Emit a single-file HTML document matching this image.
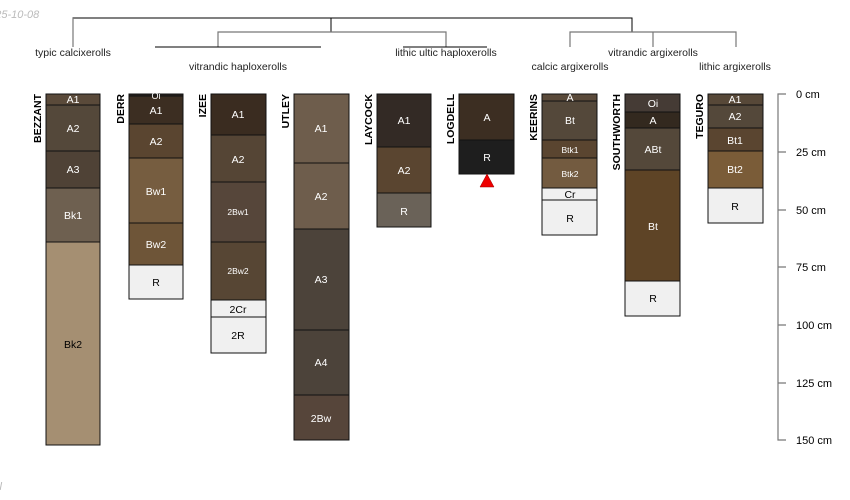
<!DOCTYPE html>
<html><head><meta charset="utf-8"><style>
html,body{margin:0;padding:0;background:#fff;width:850px;height:500px;overflow:hidden}
svg{display:block;font-family:"Liberation Sans",sans-serif}
</style></head><body>
<svg width="850" height="500" viewBox="0 0 850 500">
<text x="-17" y="18" font-size="11" fill="#bbb" font-style="italic">2025-10-08</text>
<text x="-3" y="490" font-size="11" fill="#bbb" font-style="italic">ll</text>
<!-- dendrogram -->
<g stroke="#000" stroke-width="1" fill="none">
<path d="M73 47V18H632V32M331 18V32"/>
</g>
<g stroke="#777" stroke-width="1.2" fill="none">
<path d="M73 18V47M218 47V32H446V47M570 47V32H736V47M653 32V47"/>
</g>
<g stroke="#000" stroke-width="1" fill="none">
<path d="M155 47H321M403 47H487"/>
</g>
<g font-size="10.5" fill="#222" text-anchor="middle">
<text x="73" y="56">typic calcixerolls</text>
<text x="238" y="70">vitrandic haploxerolls</text>
<text x="446" y="56">lithic ultic haploxerolls</text>
<text x="570" y="70">calcic argixerolls</text>
<text x="653" y="56">vitrandic argixerolls</text>
<text x="735" y="70">lithic argixerolls</text>
</g>
<!-- names -->
<g font-size="10.5" font-weight="bold" fill="#000" text-anchor="end">
<text transform="translate(41,94) rotate(-90)">BEZZANT</text>
<text transform="translate(124,94) rotate(-90)">DERR</text>
<text transform="translate(206,94) rotate(-90)">IZEE</text>
<text transform="translate(289,94) rotate(-90)">UTLEY</text>
<text transform="translate(372,94) rotate(-90)">LAYCOCK</text>
<text transform="translate(454,94) rotate(-90)">LOGDELL</text>
<text transform="translate(537,94) rotate(-90)">KEERINS</text>
<text transform="translate(620,94) rotate(-90)">SOUTHWORTH</text>
<text transform="translate(703,94) rotate(-90)">TEGURO</text>
</g>
<g stroke="#111" stroke-width="1" font-size="10.5" text-anchor="middle">
<rect x="46" y="94" width="54" height="11" fill="#5a4a3a"/>
<rect x="46" y="105" width="54" height="46" fill="#54483a"/>
<rect x="46" y="151" width="54" height="37" fill="#4f4236"/>
<rect x="46" y="188" width="54" height="54" fill="#6e6050"/>
<rect x="46" y="242" width="54" height="203" fill="#a58f72"/>
<rect x="129" y="94" width="54" height="2" fill="#2a2420"/>
<rect x="129" y="96" width="54" height="28" fill="#3c2e22"/>
<rect x="129" y="124" width="54" height="34" fill="#5a4530"/>
<rect x="129" y="158" width="54" height="65" fill="#765d40"/>
<rect x="129" y="223" width="54" height="42" fill="#6e5538"/>
<rect x="129" y="265" width="54" height="34" fill="#f0f0f0"/>
<rect x="211" y="94" width="55" height="41" fill="#3a2c20"/>
<rect x="211" y="135" width="55" height="47" fill="#554535"/>
<rect x="211" y="182" width="55" height="60" fill="#56463a"/>
<rect x="211" y="242" width="55" height="58" fill="#574634"/>
<rect x="211" y="300" width="55" height="17" fill="#f0f0f0"/>
<rect x="211" y="317" width="55" height="36" fill="#f0f0f0"/>
<rect x="294" y="94" width="55" height="69" fill="#6e5d4c"/>
<rect x="294" y="163" width="55" height="66" fill="#6e5d4c"/>
<rect x="294" y="229" width="55" height="101" fill="#4c433a"/>
<rect x="294" y="330" width="55" height="65" fill="#4c433a"/>
<rect x="294" y="395" width="55" height="45" fill="#56453a"/>
<rect x="377" y="94" width="54" height="53" fill="#332a25"/>
<rect x="377" y="147" width="54" height="46" fill="#5a4530"/>
<rect x="377" y="193" width="54" height="34" fill="#6a6258"/>
<rect x="459" y="94" width="55" height="46" fill="#3c2e22"/>
<rect x="459" y="140" width="55" height="34" fill="#1e1e1e"/>
<rect x="542" y="94" width="55" height="7" fill="#5a4a3a"/>
<rect x="542" y="101" width="55" height="39" fill="#54483a"/>
<rect x="542" y="140" width="55" height="18" fill="#5a4530"/>
<rect x="542" y="158" width="55" height="30" fill="#735b40"/>
<rect x="542" y="188" width="55" height="12" fill="#f0f0f0"/>
<rect x="542" y="200" width="55" height="35" fill="#f0f0f0"/>
<rect x="625" y="94" width="55" height="18" fill="#453b35"/>
<rect x="625" y="112" width="55" height="16" fill="#33291f"/>
<rect x="625" y="128" width="55" height="42" fill="#54483a"/>
<rect x="625" y="170" width="55" height="111" fill="#5e4426"/>
<rect x="625" y="281" width="55" height="35" fill="#f0f0f0"/>
<rect x="708" y="94" width="55" height="11" fill="#574838"/>
<rect x="708" y="105" width="55" height="23" fill="#54483a"/>
<rect x="708" y="128" width="55" height="23" fill="#5a4530"/>
<rect x="708" y="151" width="55" height="37" fill="#7a5c38"/>
<rect x="708" y="188" width="55" height="35" fill="#f0f0f0"/>
</g>
<polygon points="487,174 480,187 494,187" fill="#e00" stroke="#900" stroke-width="0.5"/>
<g font-size="10.5" text-anchor="middle" fill="#fff">
<text x="73" y="103">A1</text><text x="73" y="132">A2</text><text x="73" y="173">A3</text><text x="73" y="219">Bk1</text><text x="73" y="348" fill="#000">Bk2</text>
<text x="156" y="99" font-size="9">Oi</text><text x="156" y="114">A1</text><text x="156" y="145">A2</text><text x="156" y="195">Bw1</text><text x="156" y="248">Bw2</text><text x="156" y="286" fill="#000">R</text>
<text x="238" y="118">A1</text><text x="238" y="163">A2</text><text x="238" y="215" font-size="8.5">2Bw1</text><text x="238" y="274" font-size="8.5">2Bw2</text><text x="238" y="313" fill="#000">2Cr</text><text x="238" y="339" fill="#000">2R</text>
<text x="321" y="132">A1</text><text x="321" y="200">A2</text><text x="321" y="283">A3</text><text x="321" y="366">A4</text><text x="321" y="422">2Bw</text>
<text x="404" y="124">A1</text><text x="404" y="174">A2</text><text x="404" y="215">R</text>
<text x="487" y="121">A</text><text x="487" y="161">R</text>
<text x="570" y="101">A</text><text x="570" y="124">Bt</text><text x="570" y="153" font-size="8.5">Btk1</text><text x="570" y="177" font-size="8.5">Btk2</text><text x="570" y="198" fill="#000">Cr</text><text x="570" y="222" fill="#000">R</text>
<text x="653" y="107">Oi</text><text x="653" y="124">A</text><text x="653" y="153">ABt</text><text x="653" y="230">Bt</text><text x="653" y="302" fill="#000">R</text>
<text x="735" y="103">A1</text><text x="735" y="120">A2</text><text x="735" y="144">Bt1</text><text x="735" y="173">Bt2</text><text x="735" y="210" fill="#000">R</text>
</g>
<g stroke="#777" stroke-width="1.2" fill="none">
<path d="M786 94H778V440H786M778 152H786M778 210H786M778 267H786M778 325H786M778 383H786"/>
</g>
<g font-size="11" fill="#000">
<text x="796" y="98">0 cm</text><text x="796" y="156">25 cm</text><text x="796" y="214">50 cm</text><text x="796" y="271">75 cm</text><text x="796" y="329">100 cm</text><text x="796" y="387">125 cm</text><text x="796" y="444">150 cm</text>
</g>
</svg>
</body></html>
